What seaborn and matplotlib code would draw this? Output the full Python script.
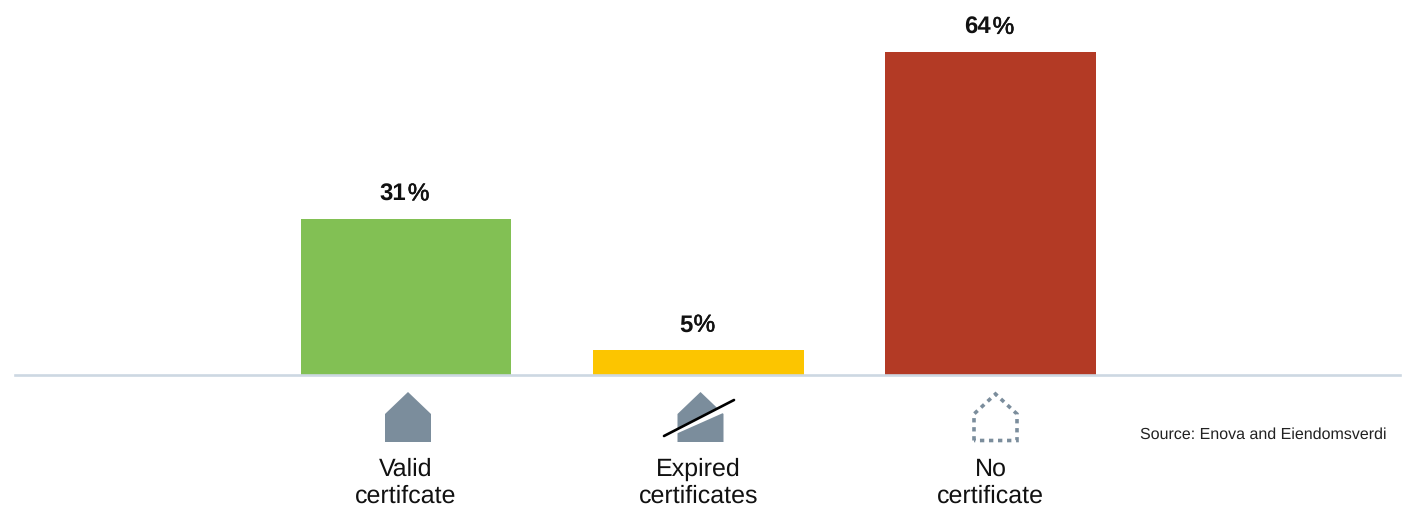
import matplotlib
matplotlib.use("Agg")
import matplotlib.pyplot as plt
import matplotlib.patheffects as pe
from matplotlib.patches import Polygon
from matplotlib.lines import Line2D
from matplotlib.offsetbox import AnnotationBbox, HPacker, TextArea
from matplotlib.transforms import Affine2D
import pandas as pd
import seaborn as sns

# Share of dwellings by energy certificate status
categories = ["Valid\ncertifcate", "Expired\ncertificates", "No\ncertificate"]
shares = [31, 5, 64]
bar_colors = ["#82c054", "#fcc500", "#b33a25"]
source_text = "Source: Enova and Eiendomsverdi"

ICON = "#7b8d9c"
INK = "#111111"
W, H = 1406, 507

sns.set_theme(style="white")
plt.rcParams["font.family"] = ["Liberation Sans", "DejaVu Sans"]
plt.rcParams["text.hinting"] = "no_hinting"
plt.rcParams["text.hinting_factor"] = 1

fig = plt.figure(figsize=(W / 100, H / 100), dpi=100, facecolor="white")
ax = fig.add_axes([15.5 / W, 132 / H, 1384.5 / W, 375 / H])

df = pd.DataFrame({"category": categories, "share": shares})
sns.barplot(data=df, x="category", y="share", hue="category", palette=bar_colors,
            legend=False, width=0.72, saturation=1, linewidth=0, ax=ax)

ax.set_xlim(-1.335, 3.4)
ax.set_ylim(0, 74.3)
ax.set_xlabel("")
ax.set_ylabel("")
ax.set_yticks([])
ax.tick_params(axis="x", length=0, pad=59.5, labelsize=18, labelcolor=INK)
for lbl in ax.get_xticklabels():
    lbl.set_linespacing(1.2)

sns.despine(ax=ax, left=True)
ax.spines["bottom"].set_color("#cdd8e2")
ax.spines["bottom"].set_linewidth(1.9)

# Value labels: bold number followed by a slightly lighter percent sign
for i, v in enumerate(shares):
    percent = TextArea("%", textprops=dict(fontsize=17.5, color=INK))
    percent._text.set_path_effects([pe.withStroke(linewidth=0.4, foreground=INK)])
    label = HPacker(
        children=[
            TextArea(str(v), textprops=dict(fontsize=17.5, fontweight="bold", color=INK)),
            percent,
        ],
        pad=0, sep=1, align="baseline",
    )
    ax.add_artist(AnnotationBbox(label, (i, v), xybox=(-1, 9.5), boxcoords="offset points",
                                 box_alignment=(0.5, 0), frameon=False, pad=0))

# Certificate pictograms, placed in pixel coordinates below the axis
px = Affine2D().scale(1, -1).translate(0, H)


def house(cx, half=23, top=392, shoulder=414, base=442, **kw):
    pts = [(cx - half, base), (cx - half, shoulder), (cx, top),
           (cx + half, shoulder), (cx + half, base)]
    fig.add_artist(Polygon(pts, closed=True, transform=px, **kw))


house(408, facecolor=ICON, edgecolor="none")
house(700.5, facecolor=ICON, edgecolor="none")
# white gap under the strike-through of the expired pictogram
fig.add_artist(Polygon([(664, 436), (734, 400), (735, 407.7), (660, 441)], closed=True,
                       transform=px, facecolor="white", edgecolor="none"))
fig.add_artist(Line2D([664, 734], [436, 400], transform=px, color="black", lw=1.9))
house(995.5, half=21.5, top=394, shoulder=414, base=440.5, facecolor="none",
      edgecolor=ICON, linewidth=2.6, linestyle=(0, (1.2, 1.3)))

fig.text(1387 / W, 1 - 434.5 / H, source_text, ha="right", va="center",
         fontsize=11.2, color="#222222")

fig.savefig("out.png", dpi=100)
